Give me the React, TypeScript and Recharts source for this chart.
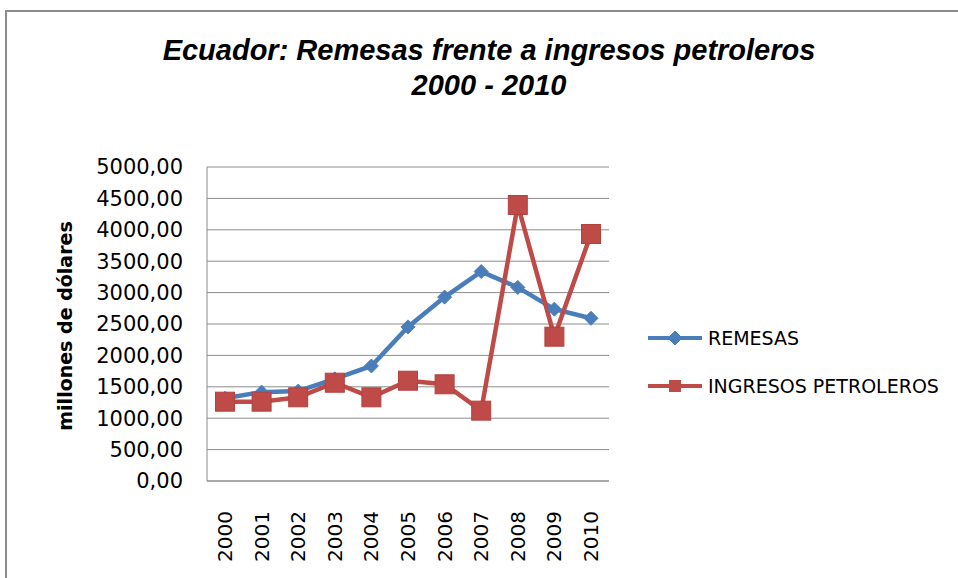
import React from "react";
import { LineChart, Line, XAxis, YAxis, CartesianGrid, Legend } from "recharts";

const years = ["2000", "2001", "2002", "2003", "2004", "2005", "2006", "2007", "2008", "2009", "2010"];
const remesas = [1317, 1415, 1432, 1627, 1832, 2454, 2928, 3335, 3083, 2736, 2591];
const petroleros = [1263, 1263, 1333, 1565, 1333, 1597, 1540, 1120, 4395, 2298, 3933];
const yTicks = [0, 500, 1000, 1500, 2000, 2500, 3000, 3500, 4000, 4500, 5000];
const seriesNames = ["REMESAS", "INGRESOS PETROLEROS"];
const titleLines = ["Ecuador: Remesas frente a ingresos petroleros", "2000 - 2010"];
const yLabel = "millones de dólares";

const BLUE = "#4A7EBB";
const RED = "#BE4B48";
const FONT = "'DejaVu Sans', sans-serif";

const data = years.map((y, i) => ({ year: y, remesas: remesas[i], petroleros: petroleros[i] }));

const fmt = (v: number) => v.toFixed(2).replace(".", ",");

const Diamond = (props: any) => {
  const { cx, cy } = props;
  if (cx == null || cy == null) return null;
  const r = 7;
  return <polygon points={`${cx},${cy - r} ${cx + r},${cy} ${cx},${cy + r} ${cx - r},${cy}`} fill={BLUE} stroke={BLUE} strokeWidth={1} />;
};

const Square = (props: any) => {
  const { cx, cy } = props;
  if (cx == null || cy == null) return null;
  const s = 9.5;
  return <rect x={cx - s} y={cy - s} width={2 * s} height={2 * s} fill={RED} stroke="#B4413E" strokeWidth={1} />;
};

const XTick = (props: any) => {
  const { x, y, payload } = props;
  const ty = y + 22;
  return (
    <text x={x} y={ty} transform={`rotate(-90, ${x}, ${ty})`} textAnchor="end" dominantBaseline="central" fontFamily={FONT} fontSize={20} fill="#000">
      {payload.value}
    </text>
  );
};

const LegendContent = () => (
  <svg width={300} height={80}>
    {seriesNames.map((name, i) => {
      const cy = 12 + i * 48;
      return (
        <g key={name}>
          <line x1={0} x2={54} y1={cy} y2={cy} stroke={i === 0 ? BLUE : RED} strokeWidth={4} />
          {i === 0 ? <Diamond cx={27} cy={cy} /> : <rect x={21} y={cy - 6} width={12} height={12} fill={RED} />}
          <text x={60} y={cy} dominantBaseline="central" fontFamily={FONT} fontSize={19} fill="#000">{name}</text>
        </g>
      );
    })}
  </svg>
);

export default function App() {
  return (
    <div style={{ position: "absolute", left: 0, top: 0, width: 958, height: 578, background: "#fff", overflow: "hidden" }}>
      <div style={{ position: "absolute", left: 5, top: 10, width: 960, height: 580, borderLeft: "2px solid #8c8c8c", borderTop: "2px solid #8c8c8c" }} />
      <svg style={{ position: "absolute", left: 0, top: 0 }} width={958} height={110}>
        {titleLines.map((t, i) => (
          <text key={i} x={489} y={60 + i * 35} textAnchor="middle" fontFamily="'Liberation Sans', Arial, sans-serif" fontStyle="italic" fontWeight="bold" fontSize={29} fill="#000">
            {t}
          </text>
        ))}
      </svg>
      <div style={{ position: "absolute", left: 0, top: 0 }}>
        <LineChart width={958} height={578} data={data} margin={{ top: 167, right: 349, bottom: 17, left: 127 }}>
          <CartesianGrid vertical={false} stroke="#8c8c8c" strokeWidth={1} />
          <XAxis dataKey="year" height={80} interval={0} padding={{ left: 18, right: 18 }} tick={<XTick />} tickLine={false} axisLine={{ stroke: "#8c8c8c" }} />
          <YAxis
            width={80}
            domain={[0, 5000]}
            ticks={yTicks}
            tickFormatter={fmt}
            tickSize={0}
            tickMargin={24}
            tickLine={false}
            axisLine={{ stroke: "#8c8c8c" }}
            tick={{ fontFamily: FONT, fontSize: 21, fill: "#000" }}
            label={{
              content: () => (
                <text x={65} y={326} transform="rotate(-90, 65, 326)" textAnchor="middle" dominantBaseline="central" fontFamily={FONT} fontWeight="bold" fontSize={19} fill="#000">
                  {yLabel}
                </text>
              ),
            }}
          />
          <Legend layout="horizontal" verticalAlign="middle" align="center" content={<LegendContent />} wrapperStyle={{ position: "absolute", left: 648, top: 326, width: 300, height: 80 }} />
          <Line name={seriesNames[0]} dataKey="remesas" stroke={BLUE} strokeWidth={4.5} dot={<Diamond />} activeDot={false} isAnimationActive={false} />
          <Line name={seriesNames[1]} dataKey="petroleros" stroke={RED} strokeWidth={4.5} dot={<Square />} activeDot={false} isAnimationActive={false} />
        </LineChart>
      </div>
    </div>
  );
}
